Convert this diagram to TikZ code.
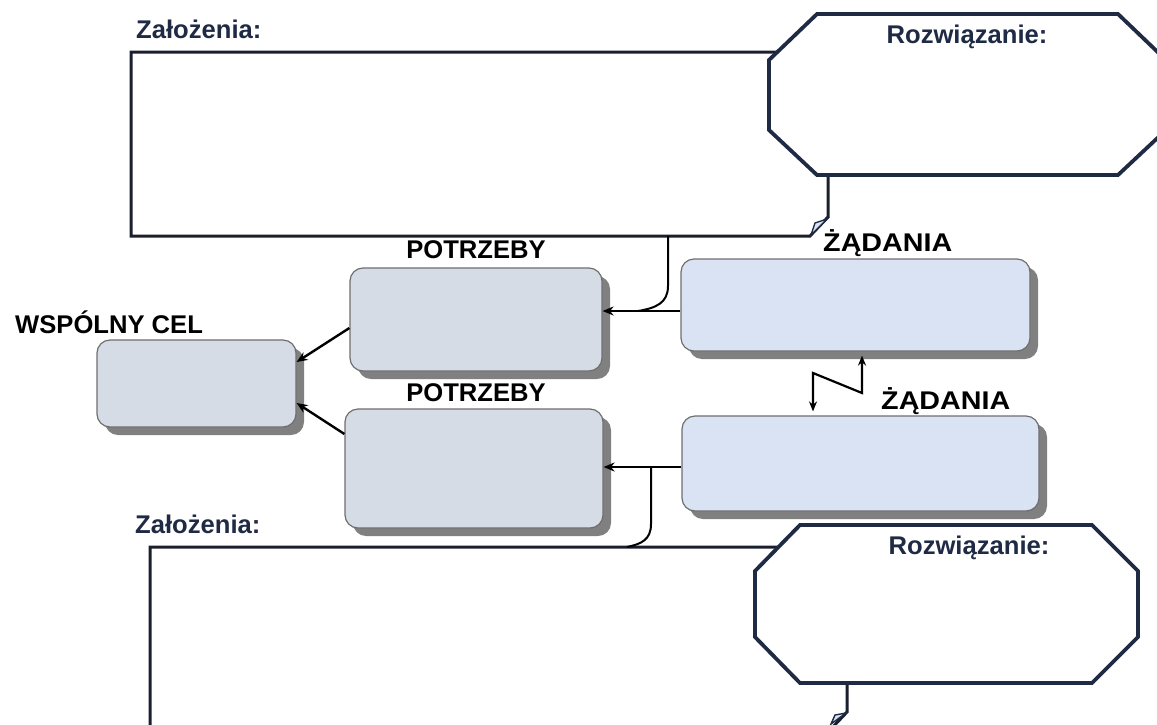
\documentclass[tikz,border=0pt]{standalone}
\usepackage{fontspec}
\setmainfont{Liberation Sans}
\usetikzlibrary{arrows.meta,calc,shadows}

\definecolor{navy}{HTML}{1F2A44}
\definecolor{frameline}{HTML}{1A1F2E}
\definecolor{greyfill}{HTML}{D6DCE5}
\definecolor{bluefill}{HTML}{DAE3F3}
\definecolor{edgegrey}{HTML}{6E6E6E}
\definecolor{shade}{HTML}{808080}

\begin{document}
\begin{tikzpicture}[x=1pt,y=-1pt,
  card/.style={draw=edgegrey, line width=1.2pt, rounded corners=13pt, inner sep=0pt,
    drop shadow={shadow xshift=8pt, shadow yshift=-8pt, fill=shade, opacity=1}},
  needbox/.style={card, fill=greyfill},
  askbox/.style={card, fill=bluefill},
  lbl/.style={font=\fontsize{25.6}{30}\selectfont\bfseries, inner sep=0pt},
  navylbl/.style={lbl, text=navy},
  frame/.style={draw=frameline, line width=3pt, line join=miter},
  octo/.style={draw=navy, line width=3.8pt, fill=white, line join=miter},
  fold/.style={draw=navy, line width=1.4pt, fill=bluefill},
  arr/.style={line width=2.4pt, -{Stealth[length=11pt,width=9pt]}},
  branch/.style={line width=2pt},
  zz/.style={line width=2.2pt, {Stealth[length=10pt,width=8pt]}-{Stealth[length=10pt,width=8pt]}}
]
\useasboundingbox (0,0) rectangle (1157,724);
\clip (0,0) rectangle (1157,724);

% upper assumptions sheet with folded corner
\draw[frame] (131,52) -- (828,52) -- (828,217) -- (810,236) -- (131,236) -- cycle;
\draw[fold] (811,235) -- (815,223) -- (827,219) -- cycle;
\coordinate (upTap) at (668,236);
% upper solution octagon
\draw[octo] (817,14) -- (1118,14) -- (1166,60) -- (1166,130) -- (1118,175)
  -- (817,175) -- (769,130) -- (769,60) -- cycle;

% lower assumptions sheet with folded corner
\draw[frame] (150,547) -- (847,547) -- (847,712) -- (829,731) -- (150,731) -- cycle;
\draw[fold] (831,724) -- (835,715) -- (846,713) -- cycle;
\coordinate (lowTap) at (627,547);
% lower solution octagon
\draw[octo] (800,525) -- (1092,525) -- (1138,571) -- (1138,637) -- (1092,683)
  -- (800,683) -- (755,637) -- (755,571) -- cycle;

% labels
\node[navylbl, anchor=base west] (zal1) at (136,38) {Założenia:};
\node[navylbl, anchor=base] (roz1) at (967,43) {Rozwiązanie:};
\node[navylbl, anchor=base west] (zal2) at (135,533) {Założenia:};
\node[navylbl, anchor=base] (roz2) at (969,554) {Rozwiązanie:};
\node[lbl, anchor=base] (potL1) at (476,258) {POTRZEBY};
\node[lbl, anchor=base] (potL2) at (476,401) {POTRZEBY};
\node[lbl, anchor=base west] (celL) at (15,333) {WSPÓLNY CEL};
\node[lbl, anchor=base west, xscale=1.12, transform shape] (zadL1) at (823,251) {ŻĄDANIA};
\node[lbl, anchor=base west, xscale=1.12, transform shape] (zadL2) at (881,409) {ŻĄDANIA};

% boxes
\node[needbox, minimum width=252pt, minimum height=103pt] (P1) at (476,319.5) {};
\node[needbox, minimum width=258pt, minimum height=119pt] (P2) at (474,468.5) {};
\node[needbox, minimum width=199pt, minimum height=87pt] (WC) at (196.5,383.5) {};
\node[askbox, minimum width=349pt, minimum height=92pt] (Z1) at (855.5,305) {};
\node[askbox, minimum width=357pt, minimum height=95pt] (Z2) at (860.5,463.5) {};

% demands feed needs
\draw[arr] ([yshift=-6pt]Z1.west) -- ([yshift=-6pt]Z1.west -| P1.east);
\draw[arr] ([yshift=-3.5pt]Z2.west) -- ([yshift=-3.5pt]Z2.west -| P2.east);
% taps from the assumption sheets
\draw[branch] (upTap) -- (668,286) .. controls (668,303) and (656,308) .. (638,311);
\draw[branch] (651,467) -- (651,524) .. controls (651,540) and (641,544) .. (lowTap);
% needs feed the common goal
\draw[arr] ([yshift=-8.5pt]P1.west) -- ([yshift=21.5pt]WC.east);
\draw[arr] ([yshift=34.5pt]P2.west) -- ([yshift=-19.5pt]WC.east);
% exchange between the two demand boxes
\coordinate (zzA) at (813,373);
\coordinate (zzB) at (862,393);
\draw[zz, shorten <=4pt, shorten >=4pt] (zzA |- Z2.north) -- (zzA) -- (zzB) -- (zzB |- Z1.south);
\end{tikzpicture}
\end{document}
